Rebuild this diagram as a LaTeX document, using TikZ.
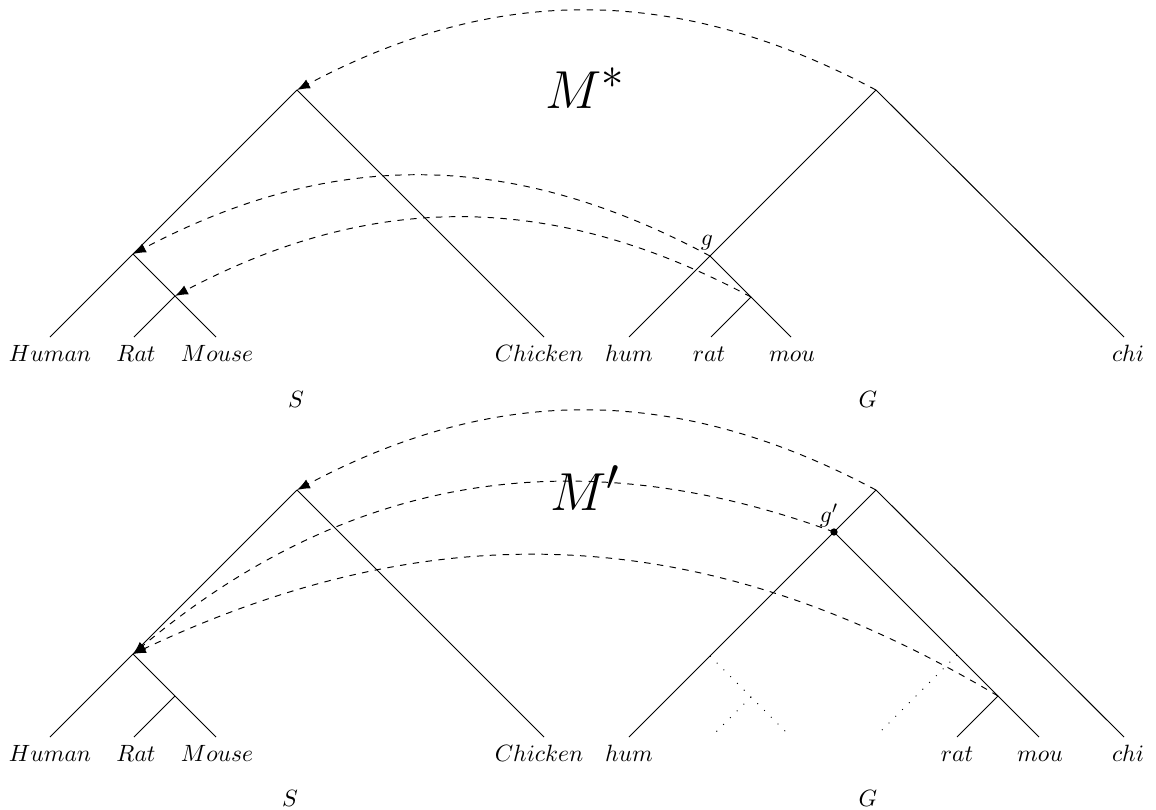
\documentclass[tikz,border=0pt]{standalone}
\usetikzlibrary{arrows.meta,calc}
\begin{document}
\begin{tikzpicture}[x=0.465pt,y=-0.465pt,
  font=\fontsize{10.8pt}{13pt}\selectfont,
  edge/.style={line width=0.45pt},
  mapping/.style={dashed,line width=0.45pt,-{Latex[length=6pt,width=4.6pt]}},
  ghost/.style={loosely dotted,line width=0.45pt},
  lab/.style={anchor=base,inner sep=0pt},
  big/.style={anchor=base,inner sep=0pt,font=\Huge},
]
\useasboundingbox (0,0) rectangle (1156,810);

% ===== top species tree S =====
\coordinate (sR) at (297,90);
\coordinate (sA) at (133,254);
\coordinate (sB) at (175,296);
\coordinate (sH) at (50,337);
\coordinate (sRt) at (134,337);
\coordinate (sM) at (216,337);
\coordinate (sC) at (544,337);
\draw[edge] (sR) -- (sA) -- (sH);
\draw[edge] (sA) -- (sB) -- (sM);
\draw[edge] (sB) -- (sRt);
\draw[edge] (sR) -- (sC);

% ===== top gene tree G =====
\coordinate (gR) at (876,90);
\coordinate (g) at (710,256);
\coordinate (gB) at (751,297);
\coordinate (gH) at (629,337);
\coordinate (gRt) at (711,337);
\coordinate (gM) at (791,337);
\coordinate (gC) at (1124,337);
\draw[edge] (gR) -- (g) -- (gH);
\draw[edge] (g) -- (gB) -- (gM);
\draw[edge] (gB) -- (gRt);
\draw[edge] (gR) -- (gC);

% labels top
\node[lab] (lH) at ($(sH)+(0,24)$) {$Human$};
\node[lab] (lR) at ($(sRt)+(2,24)$) {$Rat$};
\node[lab] (lM) at ($(sM)+(1,24)$) {$Mouse$};
\node[lab] (lC) at ($(sC)-(5,-24)$) {$Chicken$};
\node[lab] (lh) at ($(gH)+(0,24)$) {$hum$};
\node[lab] (lr) at ($(gRt)+(-2,24)$) {$rat$};
\node[lab] (lm) at ($(gM)+(1,24)$) {$mou$};
\node[lab] (lc) at ($(gC)+(4,24)$) {$chi$};
\node[lab] (lS) at (296,407) {$S$};
\node[lab] (lG) at (868,407) {$G$};
\node[lab] (lg) at (707,245) {$g$};
\node[big] (Mstar) at (585,108) {$M^*$};

% mappings top
\draw[mapping] (gR) to[bend right=28] (sR);
\draw[mapping] (g) to[bend right=28] (sA);
\draw[mapping] (gB) to[bend right=28] (sB);

% ===== bottom species tree S =====
\coordinate (tR) at (297,490);
\coordinate (tA) at (133,654);
\coordinate (tB) at (175,696);
\coordinate (tH) at (50,737);
\coordinate (tRt) at (134,737);
\coordinate (tM) at (216,737);
\coordinate (tC) at (544,737);
\draw[edge] (tR) -- (tA) -- (tH);
\draw[edge] (tA) -- (tB) -- (tM);
\draw[edge] (tB) -- (tRt);
\draw[edge] (tR) -- (tC);

% ===== bottom gene tree G =====
\coordinate (hR) at (876,490);
\coordinate (gp) at (834,532);
\coordinate (hB) at (998,696);
\coordinate (hH) at (629,737);
\coordinate (hRt) at (957,737);
\coordinate (hM) at (1039,737);
\coordinate (hC) at (1124,737);
\draw[edge] (hR) -- (gp) -- (hH);
\draw[edge] (gp) -- (hB) -- (hM);
\draw[edge] (hB) -- (hRt);
\draw[edge] (hR) -- (hC);
\fill (gp) circle (1.7pt);

% ghost (dotted) edges
\coordinate (d1) at (710,656);
\coordinate (d2) at (751,697);
\coordinate (d3) at (791,737);
\coordinate (d4) at (711,737);
\coordinate (d5) at (957,655);
\coordinate (d6) at (877,735);
\draw[ghost] (d1) -- (d2) -- (d3);
\draw[ghost] (d2) -- (d4);
\draw[ghost] (d5) -- (d6);

% labels bottom
\node[lab] (mH) at ($(tH)+(0,24)$) {$Human$};
\node[lab] (mR) at ($(tRt)+(2,24)$) {$Rat$};
\node[lab] (mM) at ($(tM)+(1,24)$) {$Mouse$};
\node[lab] (mC) at ($(tC)-(5,-24)$) {$Chicken$};
\node[lab] (mh) at ($(hH)+(0,24)$) {$hum$};
\node[lab] (mr) at ($(hRt)+(0,24)$) {$rat$};
\node[lab] (mm) at ($(hM)+(1,24)$) {$mou$};
\node[lab] (mc) at ($(hC)+(4,24)$) {$chi$};
\node[lab] (mS) at (290,806) {$S$};
\node[lab] (mG) at (868,806) {$G$};
\node[lab] (lgp) at (829,522) {$g'$};
\node[big] (Mprime) at (585,510) {$M'$};

% mappings bottom
\draw[mapping] (hR) to[bend right=28] (tR);
\draw[mapping] (gp) to[bend right=30] (tA);
\draw[mapping] (hB) to[bend right=28] (tA);
\end{tikzpicture}
\end{document}
